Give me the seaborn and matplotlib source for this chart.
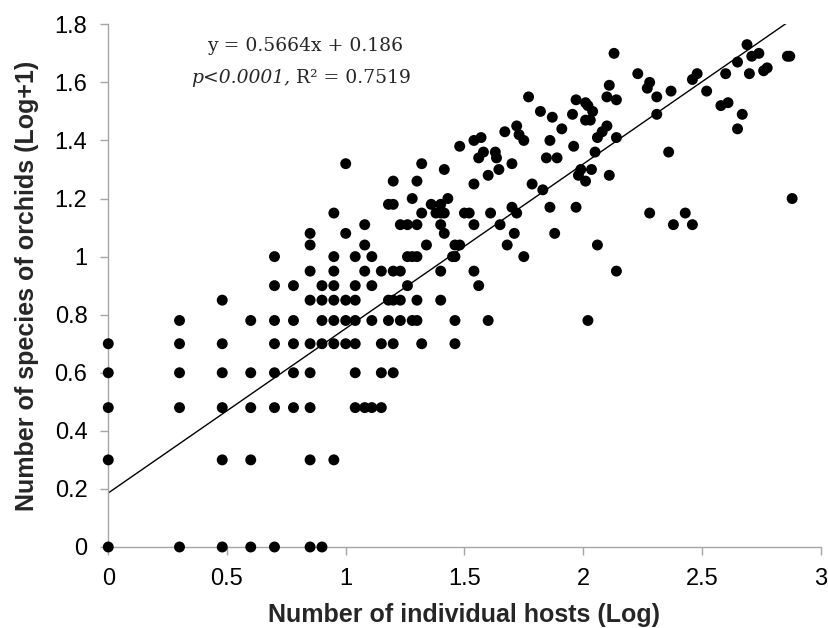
"""
Orchid species vs. number of individual hosts (log scale scatter + trend line)
"""

import matplotlib
matplotlib.use("Agg")

import pandas as pd
import seaborn as sns
import matplotlib.pyplot as plt

# --- Data ---
hosts_log = [
    0, 0, 0, 0, 0,
    0.30, 0.30, 0.30, 0.30, 0.30,
    0.48, 0.48, 0.48, 0.48, 0.48, 0.48,
    0.60, 0.60, 0.60, 0.60, 0.60,
    0.70, 0.70, 0.70, 0.70, 0.70, 0.70, 0.70,
    0.78, 0.78, 0.78, 0.78, 0.78,
    0.85, 0.85, 0.85, 0.85, 0.85, 0.85, 0.85, 0.85, 0.85,
    0.90, 0.90, 0.90, 0.90, 0.90,
    0.95, 0.95, 0.95, 0.95, 0.95, 0.95, 0.95, 0.95,
    1.00, 1.00, 1.00, 1.00, 1.00,
    1.04, 1.04, 1.04, 1.04, 1.04, 1.04, 1.04,
    1.08, 1.08, 1.08, 1.08,
    1.11, 1.11, 1.11, 1.11,
    1.15, 1.15, 1.15, 1.15,
    1.18, 1.18, 1.18,
    1.20, 1.20, 1.20, 1.20, 1.20, 1.20,
    1.23, 1.23, 1.23, 1.23,
    1.26, 1.26, 1.26,
    1.28, 1.28, 1.28,
    1.30, 1.30, 1.30, 1.30, 1.30,
    1.32, 1.32, 1.32,
    1.34, 1.36, 1.38,
    1.40, 1.40, 1.40, 1.40, 1.40,
    1.415, 1.415, 1.415,
    1.43, 1.45,
    1.46, 1.46, 1.46, 1.46,
    1.48, 1.48,
    1.50, 1.52,
    1.54, 1.54, 1.54, 1.54,
    1.56, 1.56, 1.57, 1.58,
    1.60, 1.60, 1.61, 1.63, 1.635, 1.645, 1.65, 1.67, 1.68,
    1.70, 1.70, 1.71, 1.72, 1.72, 1.73,
    1.75, 1.75, 1.77, 1.785, 1.82, 1.83, 1.845,
    1.86, 1.86, 1.87, 1.88, 1.89, 1.91,
    1.955, 1.96, 1.97, 1.97, 1.98, 1.99,
    2.01, 2.01, 2.01, 2.02, 2.02, 2.03, 2.035, 2.04, 2.05,
    2.06, 2.06, 2.08, 2.10, 2.10, 2.11, 2.11, 2.13,
    2.14, 2.14, 2.14,
    2.23, 2.27, 2.28, 2.28, 2.31, 2.31, 2.36, 2.37, 2.38, 2.43,
    2.46, 2.46, 2.48, 2.52, 2.58, 2.60, 2.61,
    2.65, 2.65, 2.67, 2.69, 2.70, 2.71, 2.74, 2.76, 2.775,
    2.86, 2.87, 2.88,
]
orchids_log = [
    0, 0.30, 0.48, 0.60, 0.70,
    0, 0.48, 0.60, 0.70, 0.78,
    0, 0.30, 0.48, 0.60, 0.70, 0.85,
    0, 0.30, 0.48, 0.60, 0.78,
    0, 0.48, 0.60, 0.70, 0.78, 0.90, 1.00,
    0.48, 0.60, 0.70, 0.78, 0.90,
    0, 0.30, 0.48, 0.60, 0.70, 0.85, 0.95, 1.04, 1.08,
    0, 0.70, 0.78, 0.85, 0.90,
    0.30, 0.70, 0.78, 0.85, 0.90, 0.95, 1.00, 1.15,
    0.70, 0.78, 0.85, 1.08, 1.32,
    0.48, 0.60, 0.70, 0.78, 0.85, 0.90, 1.00,
    0.48, 0.95, 1.04, 1.11,
    0.48, 0.78, 0.90, 1.00,
    0.48, 0.60, 0.70, 0.95,
    0.78, 0.85, 1.18,
    0.60, 0.70, 0.85, 0.95, 1.18, 1.26,
    0.78, 0.85, 0.95, 1.11,
    0.90, 1.00, 1.11,
    0.78, 1.00, 1.20,
    0.78, 0.85, 1.00, 1.11, 1.26,
    0.70, 1.15, 1.32,
    1.04, 1.18, 1.15,
    0.85, 0.95, 1.11, 1.15, 1.18,
    1.08, 1.15, 1.30,
    1.20, 1.00,
    0.70, 0.78, 1.00, 1.04,
    1.04, 1.38,
    1.15, 1.15,
    0.95, 1.11, 1.25, 1.40,
    0.90, 1.34, 1.41, 1.36,
    0.78, 1.28, 1.15, 1.36, 1.34, 1.30, 1.11, 1.43, 1.04,
    1.17, 1.32, 1.08, 1.15, 1.45, 1.42,
    1.00, 1.40, 1.55, 1.25, 1.50, 1.23, 1.34,
    1.17, 1.40, 1.48, 1.08, 1.34, 1.44,
    1.49, 1.38, 1.17, 1.54, 1.28, 1.30,
    1.53, 1.47, 1.26, 1.52, 0.78, 1.47, 1.30, 1.50, 1.36,
    1.41, 1.04, 1.43, 1.45, 1.55, 1.59, 1.28, 1.70,
    1.41, 1.54, 0.95,
    1.63, 1.58, 1.60, 1.15, 1.55, 1.49, 1.36, 1.57, 1.11, 1.15,
    1.61, 1.11, 1.63, 1.57, 1.52, 1.63, 1.53,
    1.44, 1.67, 1.49, 1.73, 1.63, 1.69, 1.70, 1.64, 1.65,
    1.69, 1.69, 1.20,
]

# trend line reported on the chart
slope = 0.5664
intercept = 0.186

df = pd.DataFrame({"hosts": hosts_log, "orchids": orchids_log})

# --- Style ---
sns.set_style("white")
plt.rcParams["font.family"] = ["Liberation Sans", "DejaVu Sans"]

fig = plt.figure(figsize=(8.29, 6.28), dpi=100)
ax = fig.add_axes([0.1306, 0.1290, 0.8593, 0.8323])

sns.scatterplot(
    data=df, x="hosts", y="orchids", ax=ax,
    color="black", s=62, edgecolor="none", clip_on=False, zorder=3,
)

x_line = [0, df["hosts"].max()]
ax.plot(x_line, [slope * v + intercept for v in x_line], color="black", lw=1.0)

# --- Axes ---
ax.set_xlim(0, 3)
ax.set_ylim(0, 1.8)
ax.set_xticks([0, 0.5, 1, 1.5, 2, 2.5, 3])
ax.set_xticklabels(["0", "0.5", "1", "1.5", "2", "2.5", "3"])
ax.set_yticks([0, 0.2, 0.4, 0.6, 0.8, 1, 1.2, 1.4, 1.6, 1.8])
ax.set_yticklabels(["0", "0.2", "0.4", "0.6", "0.8", "1", "1.2", "1.4", "1.6", "1.8"])

sns.despine(ax=ax)
for side in ["left", "bottom"]:
    ax.spines[side].set_color("#a6a6a6")
    ax.spines[side].set_linewidth(1.0)
ax.tick_params(axis="both", direction="out", length=6, width=1.0,
               color="#a6a6a6", labelsize=17, labelcolor="black")
ax.tick_params(axis="x", pad=9)
ax.tick_params(axis="y", pad=9, left=True)
ax.tick_params(axis="x", bottom=True)

ax.set_xlabel("Number of individual hosts (Log)", fontsize=18, fontweight="bold")
ax.set_ylabel("Number of species of orchids (Log+1)", fontsize=18, fontweight="bold")
ax.xaxis.set_label_coords(0.5, -0.108)
ax.yaxis.set_label_coords(-0.097, 0.5)

# --- Equation annotation ---
ax.text(0.828, 1.708, "y = 0.5664x + 0.186", family="DejaVu Serif",
        fontsize=13.5, ha="center", va="baseline")
ax.text(0.765, 1.597, "p<0.0001,", family="DejaVu Serif", style="italic",
        fontsize=13.5, ha="right", va="baseline")
ax.text(0.765, 1.597, " R² = 0.7519", family="DejaVu Serif",
        fontsize=13.5, ha="left", va="baseline")

fig.savefig("out.png", dpi=100)
